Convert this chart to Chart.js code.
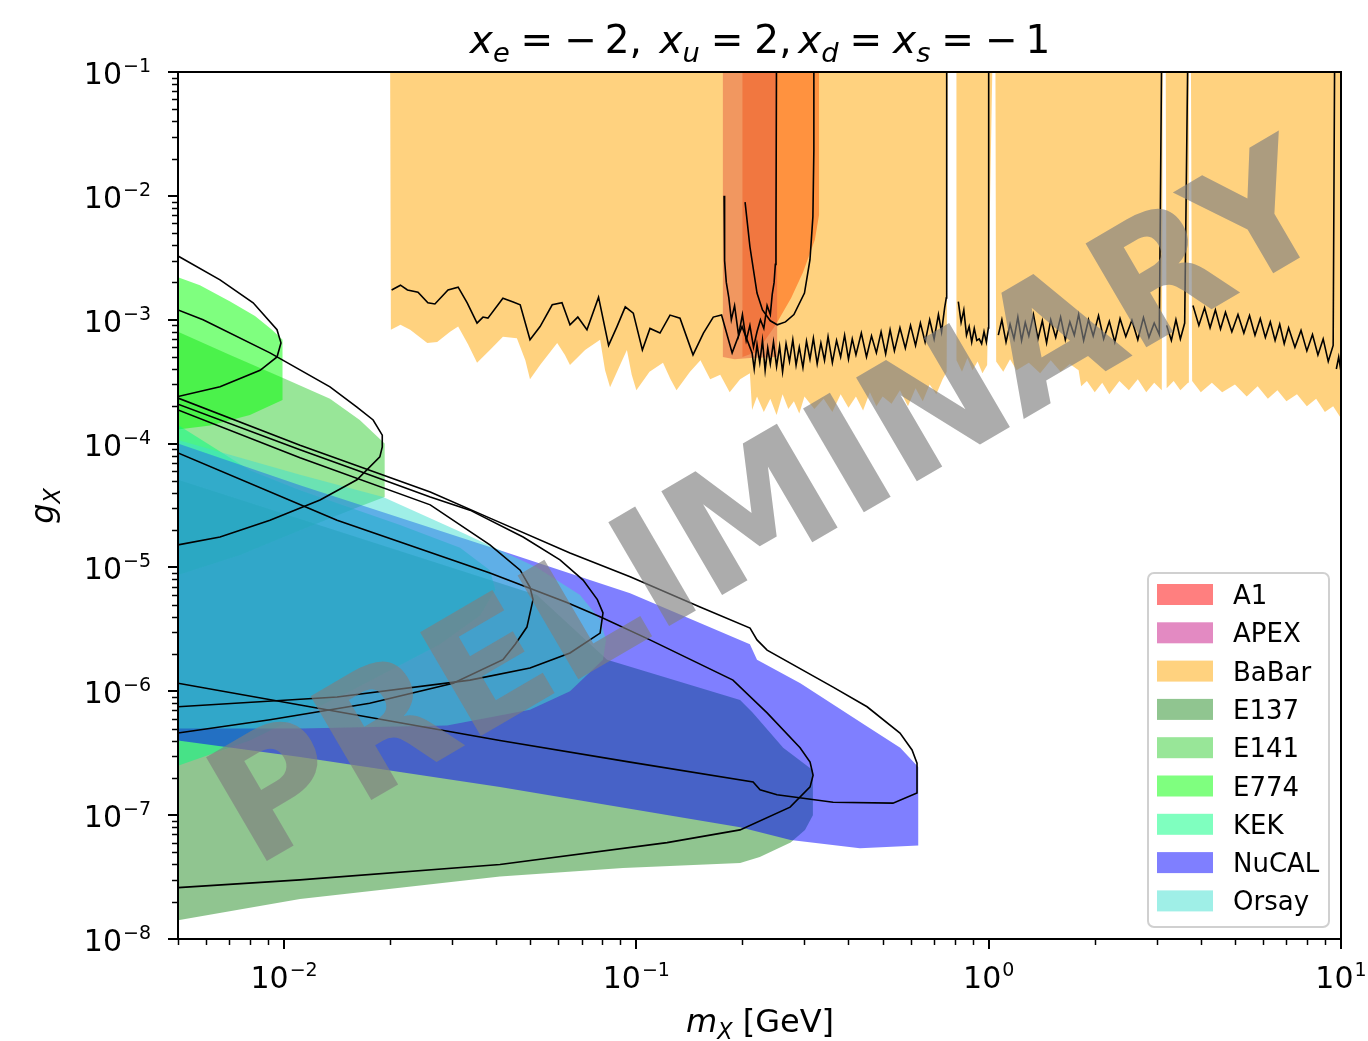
<!DOCTYPE html>
<html>
<head>
<meta charset="utf-8">
<title>g_X exclusion limits</title>
<script src="https://cdn.jsdelivr.net/npm/chart.js@4.4.1/dist/chart.umd.min.js"></script>
<style>
  html, body { margin: 0; padding: 0; background: #fff; }
  #wrap { width: 1368px; height: 1041px; }
</style>
</head>
<body>
<div id="wrap"><canvas id="limits" width="1368" height="1041"></canvas></div>
<script>
// excluded regions, [mass in GeV, coupling g_X] around each outline
const a1Region = [[0.20, 0.12], [0.20, 5.0e-4], [0.22, 5.5e-4], [0.248, 9.0e-4], [0.275, 1.5e-3],
  [0.297, 2.4e-3], [0.321, 4.4e-3], [0.33, 7.0e-3], [0.33, 0.12]];
const apexRegion = [[0.176, 0.12], [0.176, 5.0e-4], [0.19, 4.8e-4], [0.21, 4.9e-4], [0.251, 5.0e-4], [0.251, 0.12]];
const babarRegion = [
  [0.02, 0.12], [0.0201, 8.3e-4], [0.0214, 9.1e-4], [0.0228, 8.3e-4], [0.0255, 6.5e-4], [0.0272, 6.6e-4],
  [0.0296, 8.0e-4], [0.0312, 8.8e-4], [0.0333, 6.3e-4], [0.0353, 4.5e-4], [0.0384, 5.7e-4], [0.0418, 7.3e-4],
  [0.0458, 7.1e-4], [0.0484, 4.7e-4], [0.0499, 3.3e-4], [0.0533, 4.3e-4], [0.0596, 6.5e-4], [0.0627, 5.2e-4],
  [0.0648, 4.3e-4], [0.0715, 5.7e-4], [0.0789, 6.9e-4], [0.0815, 3.9e-4], [0.0842, 2.85e-4], [0.0899, 4.3e-4],
  [0.094, 5.7e-4], [0.097, 3.6e-4], [0.100, 2.7e-4], [0.109, 3.8e-4], [0.119, 4.5e-4], [0.125, 3.3e-4],
  [0.130, 2.7e-4], [0.142, 3.8e-4], [0.152, 4.7e-4], [0.162, 3.3e-4], [0.173, 3.6e-4], [0.184, 2.6e-4],
  [0.197, 3.3e-4], [0.210, 3.7e-4], [0.213, 1.87e-4],
  [0.22, 2.4e-4], [0.23, 1.8e-4], [0.24, 2.3e-4], [0.25, 1.7e-4], [0.26, 2.5e-4], [0.27, 1.9e-4],
  [0.28, 2.2e-4], [0.29, 1.75e-4], [0.30, 2.4e-4], [0.32, 1.9e-4], [0.34, 2.3e-4], [0.36, 1.8e-4],
  [0.38, 2.5e-4], [0.40, 1.95e-4], [0.42, 2.4e-4], [0.44, 1.85e-4], [0.46, 2.6e-4], [0.48, 2.0e-4],
  [0.50, 2.4e-4], [0.53, 2.1e-4], [0.56, 2.7e-4], [0.59, 2.0e-4], [0.62, 2.8e-4], [0.65, 2.2e-4],
  [0.68, 3.0e-4], [0.71, 2.5e-4], [0.74, 3.3e-4], [0.76, 3.8e-4],
  [0.765, 0.12], [0.81, 0.12],
  [0.81, 4.7e-4], [0.84, 3.8e-4], [0.87, 4.9e-4], [0.90, 3.9e-4], [0.93, 4.6e-4], [0.96, 3.7e-4], [0.99, 4.3e-4],
  [1.025, 0.12], [1.045, 0.12],
  [1.05, 4.6e-4], [1.1, 3.8e-4], [1.15, 4.8e-4], [1.2, 3.9e-4], [1.3, 4.5e-4], [1.4, 3.7e-4], [1.5, 4.7e-4],
  [1.6, 3.8e-4], [1.7, 4.4e-4], [1.8, 3.9e-4], [1.83, 2.9e-4], [1.9, 3.2e-4], [2.0, 2.6e-4], [2.1, 3.1e-4],
  [2.2, 2.5e-4], [2.35, 3.2e-4], [2.5, 2.7e-4], [2.65, 3.3e-4], [2.8, 2.6e-4], [2.95, 3.1e-4], [3.1, 2.7e-4],
  [3.12, 0.12], [3.18, 0.12],
  [3.2, 2.8e-4], [3.35, 3.2e-4], [3.5, 2.7e-4], [3.68, 3.1e-4],
  [3.7, 0.12], [3.75, 0.12],
  [3.78, 3.2e-4], [4.0, 2.6e-4], [4.3, 3.1e-4], [4.6, 2.6e-4], [5.0, 3.0e-4], [5.4, 2.4e-4], [5.8, 2.9e-4],
  [6.2, 2.3e-4], [6.6, 2.7e-4], [7.0, 2.2e-4], [7.5, 2.5e-4], [8.0, 2.0e-4], [8.5, 2.3e-4], [9.0, 1.8e-4],
  [9.5, 2.0e-4], [10.0, 1.6e-4], [10.0, 0.12]];
const e137Region = [[0.005, 5.1e-5], [0.0522, 6.0e-6], [0.0826, 1.8e-6], [0.197, 8.5e-7], [0.214, 6.7e-7],
  [0.261, 3.5e-7], [0.317, 2.3e-7], [0.317, 1.0e-7], [0.301, 7.6e-8], [0.274, 6.0e-8], [0.224, 4.6e-8],
  [0.197, 4.1e-8], [0.0916, 3.75e-8], [0.041, 3.2e-8], [0.0111, 2.1e-8], [0.005, 1.42e-8]];
const e141Region = [[0.005, 8.0e-4], [0.00703, 5.2e-4], [0.0099, 3.4e-4], [0.0135, 2.3e-4], [0.0164, 1.55e-4],
  [0.0193, 1.0e-4], [0.0193, 3.7e-5], [0.0164, 3.1e-5], [0.0111, 2.0e-5], [0.0075, 1.26e-5], [0.005, 8.7e-6]];
const e774Region = [[0.005, 2.2e-3], [0.00577, 1.9e-3], [0.00703, 1.4e-3], [0.00827, 1.07e-3], [0.00924, 8.3e-4],
  [0.0099, 6.9e-4], [0.0099, 2.25e-4], [0.0080, 1.7e-4], [0.00617, 1.4e-4], [0.005, 1.3e-4]];
const kekRegion = [[0.005, 1.41e-4], [0.008, 6.1e-5], [0.0111, 4.2e-5], [0.02135, 2.2e-5], [0.0316, 1.44e-5],
  [0.0384, 9.5e-6], [0.0398, 6.6e-6], [0.036, 4.1e-6], [0.0277, 2.4e-6], [0.0154, 1.0e-6], [0.008, 4.0e-7],
  [0.005, 2.5e-7]];
const nucalRegion = [[0.005, 1.0e-4], [0.0111, 4.6e-5], [0.0384, 1.46e-5], [0.096, 6.2e-6], [0.210, 2.4e-6],
  [0.220, 1.8e-6], [0.292, 1.16e-6], [0.452, 5.2e-7], [0.561, 3.5e-7], [0.631, 2.45e-7], [0.631, 5.7e-8],
  [0.431, 5.4e-8], [0.274, 6.3e-8], [0.197, 8.0e-8], [0.041, 1.69e-7], [0.0111, 2.95e-7], [0.005, 4.0e-7]];
const orsayRegion = [[0.005, 1.07e-4], [0.0111, 5.6e-5], [0.0191, 3.7e-5], [0.0322, 1.9e-5], [0.0522, 1.0e-5],
  [0.0692, 6.0e-6], [0.0788, 3.8e-6], [0.082, 2.6e-6], [0.0804, 1.8e-6], [0.0648, 1.0e-6], [0.0499, 7.1e-7],
  [0.029, 5.3e-7], [0.0111, 5.0e-7], [0.005, 5.0e-7]];

// limits recast for this coupling choice (black contours); null breaks the line
const babarContour = [
  [0.0202, 1.74e-3], [0.0214, 1.9e-3], [0.0224, 1.74e-3], [0.0240, 1.67e-3], [0.0256, 1.37e-3], [0.0268, 1.34e-3],
  [0.0292, 1.74e-3], [0.0312, 1.83e-3], [0.0331, 1.37e-3], [0.0353, 9.4e-4], [0.0367, 1.05e-3], [0.0379, 1.03e-3],
  [0.0418, 1.49e-3], [0.0447, 1.39e-3], [0.0468, 1.32e-3], [0.0499, 6.9e-4], [0.0533, 8.8e-4], [0.0577, 1.32e-3],
  [0.0615, 1.37e-3], [0.0648, 9.1e-4], [0.0682, 1.05e-3], [0.0724, 8.3e-4], [0.0781, 1.52e-3], [0.0834, 6.2e-4],
  [0.0881, 8.8e-4], [0.0930, 1.27e-3], [0.0980, 1.13e-3], [0.1040, 5.7e-4], [0.1093, 8.5e-4], [0.1167, 7.8e-4],
  [0.1246, 1.09e-3], [0.1330, 1.03e-3], [0.1448, 5.2e-4], [0.155, 7.8e-4], [0.1653, 1.05e-3], [0.1745, 1.09e-3],
  [0.187, 5.4e-4], [0.1995, 8.8e-4], [0.213, 5.4e-4],
  [0.216, 4.0e-4], [0.22, 6.3e-4], [0.224, 4.5e-4], [0.228, 6.8e-4], [0.232, 3.9e-4], [0.236, 5.9e-4],
  [0.24, 4.4e-4], [0.245, 6.6e-4], [0.25, 4.2e-4], [0.255, 6.1e-4], [0.26, 3.8e-4], [0.266, 6.4e-4],
  [0.272, 4.6e-4], [0.278, 6.9e-4], [0.284, 4.3e-4], [0.29, 6.0e-4], [0.297, 4.1e-4], [0.304, 6.7e-4],
  [0.311, 4.8e-4], [0.318, 7.1e-4], [0.326, 4.4e-4], [0.334, 6.5e-4], [0.342, 4.7e-4], [0.35, 7.3e-4],
  [0.36, 4.5e-4], [0.37, 6.8e-4], [0.38, 5.0e-4], [0.39, 7.5e-4], [0.40, 4.8e-4], [0.41, 7.0e-4],
  [0.42, 5.2e-4], [0.435, 7.8e-4], [0.45, 5.0e-4], [0.465, 7.4e-4], [0.48, 5.4e-4], [0.495, 8.0e-4],
  [0.51, 5.3e-4], [0.525, 8.3e-4], [0.54, 5.6e-4], [0.56, 8.6e-4], [0.58, 5.9e-4], [0.60, 9.0e-4],
  [0.62, 6.2e-4], [0.64, 9.4e-4], [0.66, 6.6e-4], [0.68, 1.0e-3], [0.70, 7.0e-4], [0.72, 1.1e-3],
  [0.735, 8.0e-4], [0.75, 1.25e-3], [0.758, 1.5e-3], [0.76, 0.2], [0.79, null],
  [0.82, 1.4e-3], [0.835, 9.5e-4], [0.85, 1.2e-3], [0.865, 7.5e-4], [0.88, 8.8e-4], [0.895, 6.6e-4],
  [0.91, 8.5e-4], [0.925, 6.8e-4], [0.94, 7.0e-4], [0.955, 6.4e-4], [0.97, 8.0e-4], [0.985, 6.6e-4],
  [0.998, 8.6e-4], [1.0, 0.2], [1.03, null],
  [1.065, 7.5e-4], [1.09, 1.0e-3], [1.12, 6.6e-4], [1.15, 9.2e-4], [1.18, 7.0e-4], [1.21, 1.05e-3],
  [1.24, 6.8e-4], [1.27, 9.5e-4], [1.30, 7.4e-4], [1.34, 1.1e-3], [1.38, 7.0e-4], [1.42, 9.8e-4],
  [1.46, 6.5e-4], [1.5, 1.0e-3], [1.55, 7.2e-4], [1.6, 1.05e-3], [1.65, 6.9e-4], [1.7, 9.6e-4],
  [1.75, 7.5e-4], [1.8, 1.1e-3], [1.86, 6.8e-4], [1.92, 1.0e-3], [1.98, 7.4e-4], [2.05, 1.08e-3],
  [2.12, 7.0e-4], [2.2, 9.7e-4], [2.28, 6.6e-4], [2.36, 1.02e-3], [2.45, 7.3e-4], [2.55, 9.9e-4],
  [2.65, 6.9e-4], [2.75, 1.04e-3], [2.85, 7.2e-4], [2.95, 9.4e-4], [3.05, 7.6e-4], [3.1, 0.2], [3.15, null],
  [3.2, 9.0e-4], [3.3, 6.8e-4], [3.4, 1.0e-3], [3.5, 7.0e-4], [3.6, 9.4e-4], [3.68, 0.2], [3.74, null],
  [3.8, 1.3e-3], [3.95, 9.0e-4], [4.1, 1.25e-3], [4.25, 8.6e-4], [4.4, 1.2e-3], [4.55, 8.4e-4],
  [4.7, 1.15e-3], [4.9, 8.0e-4], [5.1, 1.1e-3], [5.3, 7.8e-4], [5.5, 1.08e-3], [5.7, 7.5e-4],
  [5.9, 1.02e-3], [6.1, 7.2e-4], [6.3, 9.6e-4], [6.5, 6.8e-4], [6.7, 9.2e-4], [6.9, 6.4e-4],
  [7.1, 8.6e-4], [7.4, 6.0e-4], [7.7, 8.2e-4], [8.0, 5.6e-4], [8.3, 7.6e-4], [8.6, 5.2e-4],
  [8.9, 7.0e-4], [9.2, 4.6e-4], [9.5, 6.2e-4], [9.6, 0.2], [9.65, null],
  [9.7, 4.0e-4], [9.85, 5.0e-4], [10.0, 3.8e-4]];
const apexContour = [[0.1774, 1.0e-2], [0.178, 3.0e-3], [0.18, 2.0e-3], [0.183, 1.5e-3], [0.186, 1.0e-3],
  [0.19, 1.3e-3], [0.195, 7.5e-4], [0.20, 1.1e-3], [0.205, 6.8e-4], [0.21, 9.0e-4], [0.215, 6.0e-4],
  [0.22, 8.0e-4], [0.225, 1.0e-3], [0.23, 8.5e-4], [0.235, 1.3e-3], [0.24, 1.1e-3], [0.243, 1.6e-3],
  [0.246, 2.0e-3], [0.248, 2.8e-3], [0.249, 5.0e-3], [0.25, 0.2]];
const a1Contour = [[0.2035, 8.9e-3], [0.210, 3.9e-3], [0.220, 1.64e-3], [0.228, 1.2e-3], [0.24, 9.8e-4],
  [0.251, 9.1e-4], [0.265, 9.6e-4], [0.28, 1.1e-3], [0.30, 1.64e-3], [0.311, 3.05e-3], [0.317, 6.8e-3],
  [0.319, 0.0235], [0.319, 0.2]];
const e774Contour = [[0.005, 3.27e-3], [0.00658, 2.1e-3], [0.00817, 1.37e-3], [0.00955, 8.3e-4], [0.0098, 6.5e-4],
  [0.00955, 5.0e-4], [0.00855, 3.9e-4], [0.00658, 2.87e-4], [0.005, 2.4e-4]];
const e141Contour = [[0.005, 1.2e-3], [0.00589, 1.0e-3], [0.00912, 5.4e-4], [0.0135, 2.87e-4], [0.0161, 1.97e-4],
  [0.0179, 1.55e-4], [0.019, 1.17e-4], [0.019, 9.4e-5], [0.0187, 7.8e-5], [0.0161, 5.1e-5], [0.01265, 3.5e-5],
  [0.00912, 2.4e-5], [0.00658, 1.76e-5], [0.005, 1.52e-5]];
const nucalContour = [[0.005, 2.33e-4], [0.0111, 9.7e-5], [0.026, 4.07e-5], [0.0384, 2.5e-5], [0.0648, 1.31e-5],
  [0.096, 8.4e-6], [0.1516, 4.8e-6], [0.2102, 3.24e-6], [0.220, 2.6e-6], [0.235, 2.15e-6], [0.3617, 1.08e-6],
  [0.4517, 7.5e-7], [0.560, 4.6e-7], [0.606, 3.36e-7], [0.626, 2.63e-7], [0.626, 1.51e-7], [0.535, 1.25e-7],
  [0.3617, 1.27e-7], [0.2507, 1.46e-7], [0.2244, 1.6e-7], [0.2145, 1.85e-7], [0.096, 2.68e-7], [0.041, 4.0e-7],
  [0.0111, 7.75e-7], [0.005, 1.16e-6]];
const orsayContour = [[0.005, 2.08e-4], [0.0111, 8.9e-5], [0.0161, 6.1e-5], [0.026, 3.7e-5], [0.0337, 2.9e-5],
  [0.0477, 1.76e-5], [0.0607, 1.15e-5], [0.0706, 7.9e-6], [0.0775, 5.5e-6], [0.0804, 4.3e-6], [0.0789, 2.95e-6],
  [0.0648, 2.04e-6], [0.0499, 1.54e-6], [0.0337, 1.23e-6], [0.01414, 9.0e-7], [0.005, 7.5e-7]];
const kekContour = [[0.005, 1.87e-4], [0.0111, 7.7e-5], [0.026, 3.2e-5], [0.0384, 1.52e-5], [0.0468, 9.5e-6],
  [0.0499, 6.9e-6], [0.0509, 5.5e-6], [0.0489, 3.3e-6], [0.0453, 2.4e-6], [0.0418, 1.8e-6], [0.0302, 1.16e-6],
  [0.0175, 8.0e-7], [0.00912, 5.9e-7], [0.005, 4.6e-7]];
const e137Contour = [[0.005, 8.4e-5], [0.01414, 2.4e-5], [0.0384, 9.0e-6], [0.0635, 5.2e-6], [0.0789, 4.0e-6],
  [0.1093, 2.6e-6], [0.188, 1.23e-6], [0.235, 6.7e-7], [0.2915, 3.5e-7], [0.3112, 2.68e-7], [0.3174, 2.1e-7],
  [0.3112, 1.69e-7], [0.2731, 1.16e-7], [0.1969, 7.6e-8], [0.1222, 6.0e-8], [0.041, 4.0e-8], [0.0111, 3.0e-8],
  [0.005, 2.6e-8]];

// axes
const xMajorTicks = [0.01, 0.1, 1, 10];
const xTickExponents = ['\u22122', '\u22121', '0', '1'];
const xDecades = [0.001, 0.01, 0.1, 1];
const yMajorTicks = [1e-8, 1e-7, 1e-6, 1e-5, 1e-4, 1e-3, 1e-2, 1e-1];
const yTickExponents = ['\u22128', '\u22127', '\u22126', '\u22125', '\u22124', '\u22123', '\u22122', '\u22121'];
const yDecades = [1e-8, 1e-7, 1e-6, 1e-5, 1e-4, 1e-3, 1e-2];
const minorSteps = [2, 3, 4, 5, 6, 7, 8, 9];

const FONT = '"DejaVu Sans"';
Chart.defaults.font.family = 'DejaVu Sans';

const regions = [
  { label: 'A1', pts: a1Region, color: 'rgba(255,0,0,0.5)' },
  { label: 'APEX', pts: apexRegion, color: 'rgba(199,21,133,0.5)' },
  { label: 'BaBar', pts: babarRegion, color: 'rgba(255,165,0,0.5)' },
  { label: 'E137', pts: e137Region, color: 'rgba(34,139,34,0.5)' },
  { label: 'E141', pts: e141Region, color: 'rgba(50,205,50,0.5)' },
  { label: 'E774', pts: e774Region, color: 'rgba(0,255,0,0.5)' },
  { label: 'KEK', pts: kekRegion, color: 'rgba(0,255,127,0.5)' },
  { label: 'NuCAL', pts: nucalRegion, color: 'rgba(0,0,255,0.5)' },
  { label: 'Orsay', pts: orsayRegion, color: 'rgba(64,224,208,0.5)' }
];
const contours = [babarContour, apexContour, a1Contour, e774Contour, e141Contour,
  nucalContour, orsayContour, kekContour, e137Contour];

const toXY = pts => pts.map(([m, g]) => ({ x: m, y: g }));

// first region sits at the bottom, contours on top
const datasets = regions.map((r, i) => ({
  label: r.label,
  data: toXY(r.pts),
  fill: 'shape',
  backgroundColor: r.color,
  borderColor: 'transparent',
  borderWidth: 0,
  pointRadius: 0,
  order: regions.length - i
})).concat(contours.map(c => ({
  label: '',
  data: toXY(c),
  fill: false,
  borderColor: '#000',
  borderWidth: 1.6,
  pointRadius: 0,
  spanGaps: false,
  order: 0
})));

// text runs with italic letters and subscripts
function drawRun(ctx, parts, x, y, size) {
  let total = 0;
  const widths = parts.map(p => {
    if (p.gap !== undefined) return p.gap * size;
    const s = p.sub ? size * 0.7 : size;
    ctx.font = (p.it ? 'italic ' : '') + s + 'px ' + FONT;
    return ctx.measureText(p.t).width;
  });
  widths.forEach(w => { total += w; });
  let cx = x - total / 2;
  parts.forEach((p, i) => {
    if (p.gap === undefined) {
      const s = p.sub ? size * 0.7 : size;
      ctx.font = (p.it ? 'italic ' : '') + s + 'px ' + FONT;
      ctx.fillText(p.t, cx, y + (p.sub ? size * 0.22 : 0));
    }
    cx += widths[i];
  });
}

function drawPower(ctx, exp, x, y, align) {
  ctx.font = '30px ' + FONT;
  const wb = ctx.measureText('10').width;
  ctx.font = '19px ' + FONT;
  const we = ctx.measureText(exp).width;
  const total = wb + we + 1;
  const x0 = align === 'right' ? x - total : x - total / 2;
  ctx.font = '30px ' + FONT;
  ctx.fillText('10', x0, y);
  ctx.font = '19px ' + FONT;
  ctx.fillText(exp, x0 + wb + 1, y - 12);
}

const axisDecor = {
  id: 'axisDecor',
  afterDatasetsDraw(chart) {
    const { ctx, chartArea: a, scales: { x, y } } = chart;
    ctx.save();
    ctx.strokeStyle = '#000';
    const tick = (x1, y1, x2, y2, w) => {
      ctx.lineWidth = w;
      ctx.beginPath(); ctx.moveTo(x1, y1); ctx.lineTo(x2, y2); ctx.stroke();
    };
    xDecades.forEach(d => minorSteps.forEach(k => {
      const v = k * d;
      if (v < 0.005 - 1e-12 || v > 10) return;
      const px = Math.round(x.getPixelForValue(v)) + 0.5;
      tick(px, a.bottom, px, a.bottom + 6, 1.5);
    }));
    xMajorTicks.forEach(v => {
      const px = Math.round(x.getPixelForValue(v));
      tick(px, a.bottom, px, a.bottom + 10, 2);
    });
    yDecades.forEach(d => minorSteps.forEach(k => {
      const py = Math.round(y.getPixelForValue(k * d)) + 0.5;
      tick(a.left - 6, py, a.left, py, 1.5);
    }));
    yMajorTicks.forEach(v => {
      const py = Math.round(y.getPixelForValue(v));
      tick(a.left - 10, py, a.left, py, 2);
    });
    ctx.lineWidth = 2;
    ctx.strokeRect(a.left, a.top, a.right - a.left, a.bottom - a.top);
    ctx.restore();
  },
  afterDraw(chart) {
    const { ctx, chartArea: a, scales: { x, y } } = chart;
    ctx.save();
    ctx.fillStyle = '#000';
    ctx.textAlign = 'left';
    ctx.textBaseline = 'alphabetic';

    xMajorTicks.forEach((v, i) => drawPower(ctx, xTickExponents[i], x.getPixelForValue(v), a.bottom + 49, 'center'));
    yMajorTicks.forEach((v, i) => drawPower(ctx, yTickExponents[i], a.left - 27, y.getPixelForValue(v) + 12, 'right'));

    // title
    const g = 0.28;
    drawRun(ctx, [
      { t: 'x', it: true }, { t: 'e', it: true, sub: true }, { gap: g }, { t: '=' }, { gap: g },
      { t: '\u2212' }, { gap: 0.2 }, { t: '2' }, { t: ',' }, { gap: 0.45 },
      { t: 'x', it: true }, { t: 'u', it: true, sub: true }, { gap: g }, { t: '=' }, { gap: g }, { t: '2' }, { t: ',' }, { gap: 0.17 },
      { t: 'x', it: true }, { t: 'd', it: true, sub: true }, { gap: g }, { t: '=' }, { gap: g },
      { t: 'x', it: true }, { t: 's', it: true, sub: true }, { gap: g }, { t: '=' }, { gap: g },
      { t: '\u2212' }, { gap: 0.2 }, { t: '1' }
    ], 760, 53, 39);

    // axis titles
    drawRun(ctx, [{ t: 'm', it: true }, { t: 'X', it: true, sub: true }, { t: ' [GeV]' }], 760, 1032, 32);
    ctx.save();
    ctx.translate(53, 506);
    ctx.rotate(-Math.PI / 2);
    drawRun(ctx, [{ t: 'g', it: true }, { t: 'X', it: true, sub: true }], 0, 0, 32);
    ctx.restore();

    // legend
    const lx = 1148, ly = 573, lw = 181, lh = 354;
    ctx.beginPath();
    ctx.roundRect(lx, ly, lw, lh, 6);
    ctx.fillStyle = 'rgba(255,255,255,0.8)';
    ctx.fill();
    ctx.strokeStyle = '#d0d0d0';
    ctx.lineWidth = 2;
    ctx.stroke();
    ctx.font = '26px ' + FONT;
    regions.forEach((r, i) => {
      const top = ly + 11 + i * 38.3;
      ctx.fillStyle = r.color;
      ctx.fillRect(lx + 9, top, 56, 21);
      ctx.fillStyle = '#000';
      ctx.fillText(r.label, lx + 85, top + 20);
    });

    // watermark
    ctx.translate(796, 552);
    ctx.rotate(-30.3 * Math.PI / 180);
    ctx.font = 'bold 165px ' + FONT;
    ctx.fillStyle = 'rgba(128,128,128,0.65)';
    ctx.textAlign = 'center';
    ctx.fillText('PRELIMINARY', 0, 0);
    ctx.restore();
  }
};

new Chart(document.getElementById('limits'), {
  type: 'line',
  data: { datasets },
  options: {
    responsive: false,
    animation: false,
    devicePixelRatio: 1,
    events: [],
    layout: { padding: { left: 178, right: 27, top: 72, bottom: 102 } },
    scales: {
      x: { type: 'logarithmic', min: 0.005, max: 10, display: false },
      y: { type: 'logarithmic', min: 1e-8, max: 0.1, display: false }
    },
    plugins: { legend: { display: false }, tooltip: { enabled: false }, title: { display: false } }
  },
  plugins: [axisDecor]
});
</script>
</body>
</html>
